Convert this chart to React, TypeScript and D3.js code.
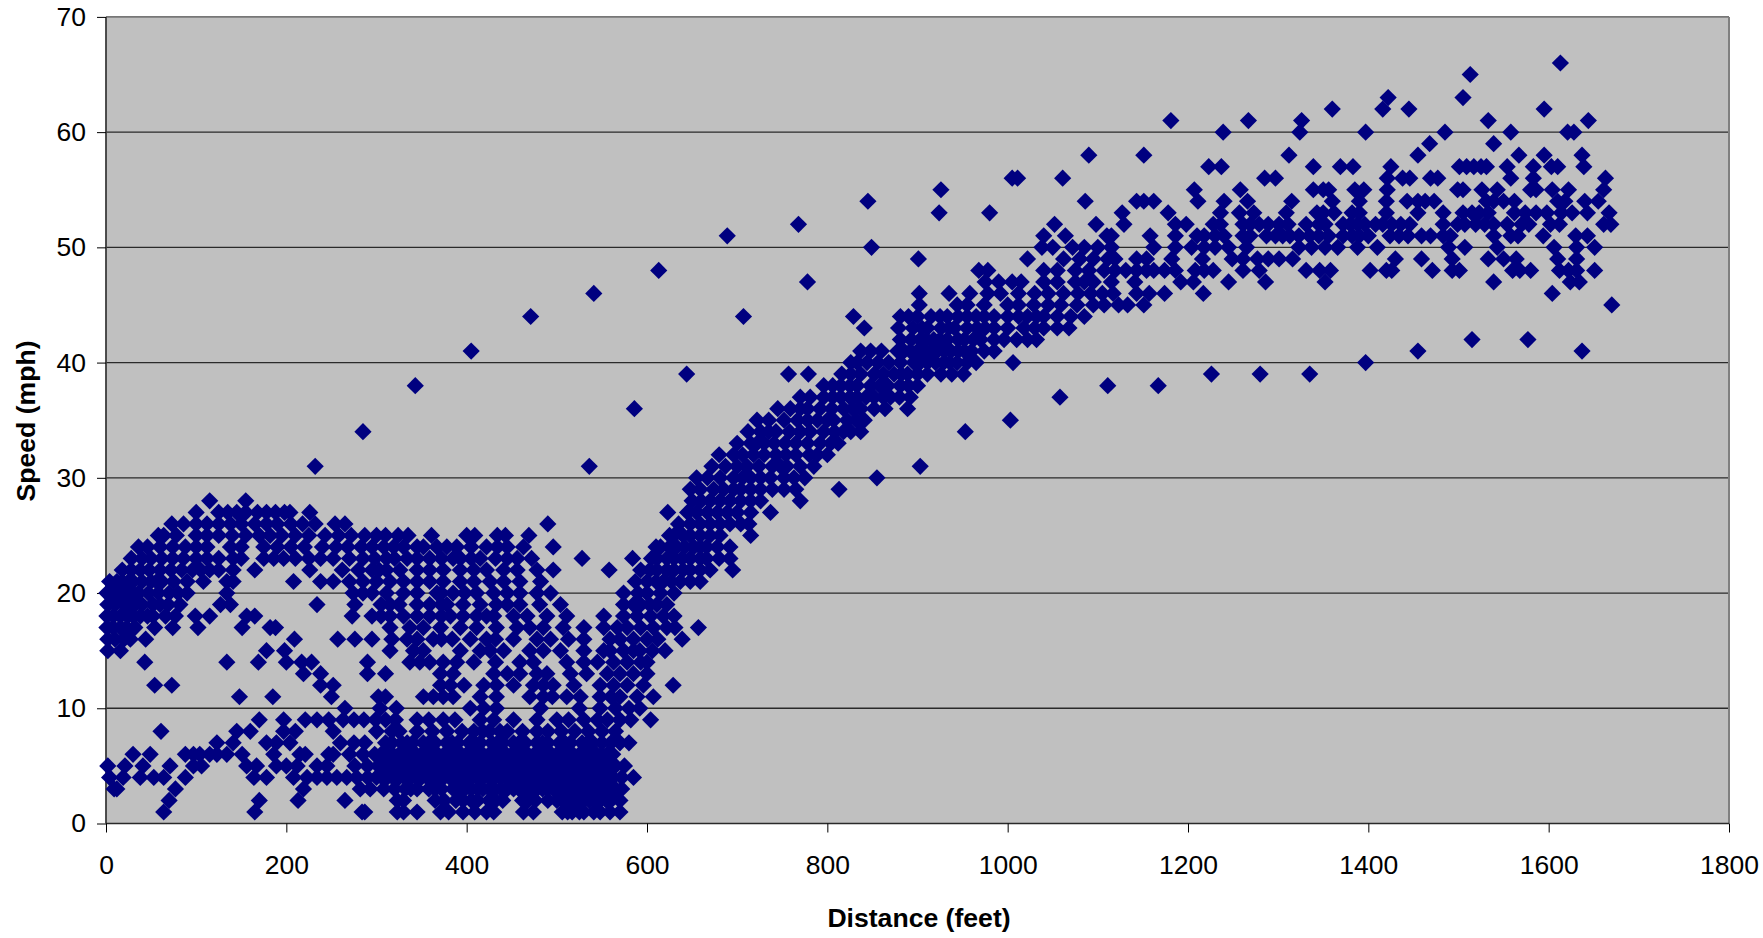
import * as d3 from "d3";
import { useRef, useEffect } from "react";

const width = 1763;
const height = 938;
const marginTop = 16.9;
const marginRight = 34;
const marginBottom = 114.5;
const marginLeft = 106;

const xTicks = [0, 200, 400, 600, 800, 1000, 1200, 1400, 1600, 1800];
const yTicks = [0, 10, 20, 30, 40, 50, 60, 70];

// Speeds are whole mph, so the points are kept as distances (feet) per speed
const speeds = [1, 2, 3, 4, 5, 6, 7, 8, 9, 10, 11, 12, 13, 14, 15, 16, 17, 18, 19, 20, 21, 22, 23, 24, 25, 26, 27, 28, 29, 30, 31, 32, 33, 34, 35, 36, 37, 38, 39, 40, 41, 42, 43, 44, 45, 46, 47, 48, 49, 50, 51, 52, 53, 54, 55, 56, 57, 58, 59, 60, 61, 62, 63, 65, 66];

const distances = [
  [64, 165, 284, 287, 323, 330, 345, 371, 380, 396, 409, 422, 430, 463, 474, 506, 512, 517, 525, 530, 541, 548, 559, 570],
  [70, 170, 213, 265, 323, 330, 365, 375, 388, 396, 405, 412, 425, 432, 440, 462, 468, 476, 490, 500, 507, 512, 520, 524, 530, 536, 543, 548, 555, 560, 570],
  [9, 12, 77, 219, 282, 293, 308, 320, 332, 338, 345, 358, 365, 372, 385, 391, 398, 405, 412, 418, 425, 431, 438, 445, 452, 458, 465, 472, 478, 484, 490, 496, 502, 508, 515, 521, 527, 533, 540, 546, 552, 558, 565, 572],
  [4, 19, 38, 53, 64, 88, 164, 178, 208, 223, 234, 245, 256, 267, 278, 290, 300, 306, 312, 318, 325, 331, 337, 344, 350, 356, 362, 368, 375, 381, 387, 393, 400, 406, 412, 418, 425, 431, 437, 443, 450, 456, 462, 468, 475, 481, 487, 493, 500, 506, 512, 518, 525, 531, 537, 543, 550, 556, 562, 572, 585],
  [2, 21, 41, 71, 97, 106, 156, 167, 189, 200, 212, 234, 245, 276, 290, 302, 308, 315, 322, 328, 334, 340, 346, 352, 358, 365, 371, 378, 384, 390, 396, 402, 408, 415, 421, 428, 434, 440, 446, 452, 458, 465, 471, 478, 484, 490, 496, 502, 508, 515, 521, 528, 534, 540, 546, 552, 558, 565, 575],
  [30, 49, 88, 97, 104, 115, 123, 134, 151, 186, 215, 221, 247, 252, 270, 285, 298, 305, 312, 318, 325, 331, 338, 344, 350, 356, 362, 368, 375, 381, 388, 394, 400, 406, 412, 418, 425, 431, 438, 444, 450, 456, 462, 468, 475, 481, 488, 494, 500, 506, 512, 518, 525, 531, 538, 544, 550, 556, 562],
  [123, 141, 178, 189, 204, 260, 275, 287, 310, 317, 328, 334, 340, 352, 358, 365, 378, 384, 390, 403, 409, 415, 428, 434, 440, 452, 458, 465, 478, 484, 490, 503, 509, 515, 528, 534, 540, 550, 560, 570, 580],
  [61, 145, 160, 197, 210, 252, 300, 317, 325, 345, 362, 378, 395, 408, 418, 425, 437, 445, 462, 478, 490, 505, 520, 535, 550, 565],
  [170, 197, 221, 234, 247, 263, 275, 286, 299, 310, 321, 345, 358, 374, 387, 415, 430, 452, 478, 500, 513, 530, 545, 556, 570, 582, 604],
  [265, 304, 322, 404, 419, 433, 482, 525, 548, 565, 580, 592],
  [148, 185, 250, 302, 310, 352, 363, 374, 385, 415, 433, 470, 485, 495, 511, 526, 548, 560, 570, 589, 607],
  [54, 73, 238, 252, 371, 382, 397, 419, 433, 452, 474, 485, 496, 519, 548, 563, 578, 596, 629],
  [219, 238, 290, 310, 371, 385, 430, 445, 459, 478, 489, 515, 533, 556, 570, 585, 600],
  [43, 134, 169, 200, 217, 228, 290, 337, 348, 359, 374, 389, 408, 432, 459, 474, 511, 530, 545, 563, 578, 593, 600],
  [2, 16, 178, 198, 315, 341, 352, 393, 415, 426, 441, 470, 485, 504, 530, 552, 559, 574, 585, 592, 606, 620],
  [2, 10, 20, 27, 44, 209, 257, 276, 295, 317, 334, 345, 363, 372, 384, 404, 422, 432, 452, 478, 493, 513, 530, 559, 570, 585, 600, 612, 639],
  [1, 8, 16, 23, 32, 54, 74, 102, 151, 182, 188, 315, 337, 352, 371, 393, 411, 433, 456, 470, 485, 507, 530, 552, 567, 578, 593, 607, 622, 631, 657],
  [1, 8, 16, 24, 30, 38, 46, 52, 66, 77, 99, 115, 156, 165, 273, 295, 305, 315, 330, 345, 359, 372, 382, 396, 411, 422, 430, 452, 467, 489, 511, 552, 574, 589, 604, 618, 630],
  [2, 10, 20, 26, 32, 40, 52, 60, 69, 82, 127, 138, 234, 276, 305, 315, 325, 345, 359, 372, 378, 396, 415, 433, 445, 459, 481, 504, 574, 585, 593, 603, 611, 622],
  [1, 7, 15, 20, 25, 30, 36, 47, 58, 70, 80, 90, 134, 274, 285, 295, 311, 330, 345, 367, 372, 385, 398, 411, 430, 445, 459, 478, 493, 574, 590, 600, 615, 630],
  [4, 12, 18, 25, 30, 40, 50, 56, 62, 75, 90, 108, 134, 141, 208, 238, 252, 270, 285, 300, 315, 330, 345, 359, 374, 393, 408, 426, 441, 459, 482, 587, 600, 610, 618, 627, 637, 648, 659],
  [18, 28, 38, 48, 60, 72, 84, 96, 105, 115, 125, 141, 165, 226, 262, 280, 295, 303, 311, 326, 345, 359, 374, 393, 408, 422, 441, 456, 478, 496, 558, 593, 603, 611, 622, 630, 640, 648, 659, 670, 695],
  [28, 40, 50, 62, 74, 86, 100, 112, 125, 141, 150, 175, 186, 197, 210, 225, 238, 252, 270, 285, 298, 311, 320, 334, 345, 359, 372, 385, 393, 405, 415, 432, 445, 456, 472, 528, 584, 605, 611, 622, 630, 639, 648, 659, 666, 680, 692],
  [36, 46, 60, 74, 88, 100, 112, 138, 150, 175, 190, 205, 220, 240, 255, 268, 283, 295, 308, 319, 330, 345, 352, 367, 378, 389, 405, 422, 434, 445, 463, 496, 610, 615, 625, 633, 642, 652, 659, 666, 678, 692],
  [58, 64, 78, 100, 112, 125, 140, 155, 170, 182, 195, 210, 225, 243, 258, 272, 287, 300, 310, 324, 335, 361, 400, 409, 434, 443, 469, 625, 630, 640, 648, 659, 670, 681, 715],
  [73, 86, 100, 112, 125, 138, 150, 165, 178, 190, 205, 218, 232, 254, 265, 490, 635, 648, 659, 670, 681, 692, 704, 713],
  [100, 125, 135, 145, 155, 168, 178, 188, 198, 204, 226, 623, 645, 655, 667, 678, 689, 700, 715, 737],
  [115, 155, 650, 660, 670, 681, 692, 704, 715, 726, 770],
  [648, 659, 674, 685, 696, 704, 715, 726, 739, 752, 765, 813],
  [655, 667, 681, 696, 706, 715, 726, 737, 752, 763, 775, 855],
  [232, 536, 672, 687, 700, 711, 724, 739, 748, 755, 770, 785, 903],
  [680, 696, 706, 718, 730, 743, 754, 765, 780, 789, 800],
  [700, 715, 722, 730, 741, 753, 765, 778, 792, 804, 812],
  [285, 712, 726, 735, 743, 758, 770, 781, 796, 808, 818, 826, 837, 953],
  [722, 735, 752, 767, 778, 789, 800, 807, 822, 832, 841, 1003],
  [586, 745, 759, 770, 778, 792, 805, 818, 828, 837, 852, 864, 889],
  [770, 781, 796, 806, 815, 825, 833, 843, 852, 862, 870, 880, 892, 1058],
  [343, 796, 806, 815, 825, 833, 848, 858, 867, 881, 890, 900, 1111, 1167],
  [644, 757, 779, 816, 826, 837, 852, 862, 874, 882, 889, 900, 911, 926, 938, 951, 1226, 1280, 1335],
  [826, 833, 844, 856, 868, 881, 896, 903, 911, 920, 929, 936, 944, 955, 965, 1006, 1397],
  [405, 837, 848, 860, 878, 885, 892, 900, 907, 915, 922, 930, 937, 945, 952, 960, 974, 985, 1455, 1637],
  [881, 893, 903, 910, 918, 925, 933, 945, 952, 962, 970, 985, 996, 1010, 1022, 1032, 1515, 1577],
  [841, 879, 895, 905, 911, 926, 935, 941, 955, 966, 975, 985, 1000, 1018, 1030, 1040, 1055, 1068],
  [471, 707, 829, 881, 890, 900, 915, 925, 933, 945, 955, 965, 974, 985, 1000, 1012, 1022, 1032, 1040, 1055, 1070, 1085],
  [902, 944, 955, 974, 1000, 1012, 1029, 1045, 1059, 1077, 1095, 1107, 1123, 1133, 1151, 1670],
  [541, 902, 935, 958, 978, 992, 1012, 1030, 1045, 1062, 1078, 1092, 1105, 1117, 1143, 1157, 1174, 1217, 1604],
  [778, 975, 990, 1005, 1015, 1040, 1055, 1075, 1085, 1095, 1115, 1141, 1192, 1206, 1245, 1286, 1352, 1539, 1624, 1634],
  [613, 968, 978, 1040, 1055, 1075, 1090, 1107, 1119, 1131, 1143, 1154, 1162, 1174, 1186, 1208, 1218, 1228, 1261, 1279, 1331, 1346, 1358, 1402, 1420, 1426, 1471, 1493, 1501, 1560, 1568, 1580, 1612, 1622, 1631, 1651],
  [901, 1022, 1062, 1080, 1095, 1111, 1119, 1143, 1154, 1182, 1216, 1249, 1261, 1277, 1289, 1301, 1316, 1430, 1459, 1493, 1533, 1550, 1564, 1610, 1631],
  [849, 1038, 1050, 1072, 1085, 1100, 1115, 1162, 1186, 1204, 1218, 1230, 1245, 1265, 1323, 1337, 1352, 1366, 1388, 1410, 1489, 1507, 1543, 1606, 1631, 1651],
  [689, 1040, 1064, 1110, 1115, 1158, 1186, 1210, 1218, 1230, 1240, 1261, 1269, 1287, 1297, 1305, 1313, 1323, 1335, 1345, 1356, 1372, 1382, 1390, 1400, 1424, 1434, 1444, 1459, 1469, 1483, 1491, 1539, 1558, 1566, 1594, 1630, 1643],
  [768, 1052, 1098, 1129, 1186, 1198, 1228, 1236, 1261, 1269, 1279, 1289, 1301, 1311, 1331, 1345, 1352, 1372, 1380, 1388, 1396, 1408, 1416, 1426, 1436, 1446, 1483, 1499, 1507, 1519, 1529, 1539, 1554, 1570, 1578, 1602, 1612, 1661, 1669],
  [924, 980, 1127, 1178, 1236, 1257, 1273, 1309, 1343, 1350, 1362, 1382, 1390, 1420, 1455, 1483, 1505, 1515, 1523, 1533, 1562, 1574, 1586, 1598, 1614, 1626, 1643, 1667],
  [845, 1086, 1143, 1151, 1162, 1211, 1240, 1266, 1315, 1360, 1390, 1420, 1443, 1455, 1463, 1473, 1531, 1539, 1550, 1562, 1610, 1618, 1640, 1655],
  [926, 1207, 1258, 1339, 1350, 1356, 1385, 1395, 1421, 1499, 1505, 1526, 1543, 1580, 1586, 1604, 1622, 1661],
  [1005, 1011, 1061, 1285, 1297, 1421, 1438, 1446, 1469, 1477, 1558, 1583, 1663],
  [1223, 1237, 1339, 1369, 1383, 1425, 1501, 1509, 1517, 1525, 1531, 1554, 1583, 1603, 1610, 1639],
  [1090, 1151, 1312, 1455, 1567, 1595, 1637],
  [1468, 1539],
  [1239, 1324, 1397, 1485, 1558, 1621, 1628],
  [1181, 1267, 1326, 1533, 1644],
  [1360, 1416, 1445, 1595],
  [1422, 1505],
  [1513],
  [1613],
];

const x = d3.scaleLinear([0, 1800], [marginLeft, width - marginRight]);
const y = d3.scaleLinear([0, 70], [height - marginBottom, marginTop]);

const points = speeds.flatMap((speed, i) =>
  distances[i].map((distance) => ({ speed, distance }))
);

const diamond = "M0,-8.6L8.6,0L0,8.6L-8.6,0Z";
const font = "'Liberation Sans', Arial, sans-serif";

export default function App() {
  const gx = useRef<SVGGElement>(null);
  const gy = useRef<SVGGElement>(null);

  useEffect(() => {
    const bottom = d3
      .axisBottom(x)
      .tickValues(xTicks)
      .tickSize(9)
      .tickPadding(23)
      .tickFormat(d3.format("d"));
    d3.select(gx.current).call(bottom);
    d3.select(gx.current).select(".domain").remove();
  }, []);

  useEffect(() => {
    const left = d3
      .axisLeft(y)
      .tickValues(yTicks)
      .tickSize(9)
      .tickPadding(11)
      .tickFormat(d3.format("d"));
    d3.select(gy.current).call(left);
    d3.select(gy.current).select(".domain").remove();
  }, []);

  return (
    <svg
      width={width}
      height={height}
      style={{ position: "absolute", left: 0, top: 0, background: "#fff" }}
      fontFamily={font}
    >
      <rect
        x={marginLeft}
        y={marginTop}
        width={width - marginLeft - marginRight}
        height={height - marginTop - marginBottom}
        fill="#c0c0c0"
      />
      {/* Grid lines */}
      <g stroke="#2a2a2a" strokeWidth="1.3">
        {yTicks.slice(1, -1).map((t) => (
          <line key={t} x1={marginLeft} x2={width - marginRight} y1={y(t)} y2={y(t)} />
        ))}
      </g>
      {/* Plot border */}
      <line x1={marginLeft} x2={width - marginRight} y1={marginTop} y2={marginTop} stroke="#777" strokeWidth="1.6" />
      <line x1={width - marginRight} x2={width - marginRight} y1={marginTop} y2={y(0)} stroke="#808080" strokeWidth="2" />
      <line x1={marginLeft} x2={marginLeft} y1={marginTop} y2={y(0)} stroke="#3c3c3c" strokeWidth="1.8" />
      <line x1={marginLeft} x2={width - marginRight} y1={y(0)} y2={y(0)} stroke="#2a2a2a" strokeWidth="1.6" />
      {/* X axis */}
      <g ref={gx} transform={`translate(0,${height - marginBottom})`} style={{ fontFamily: font, fontSize: 26.5 }} />
      {/* Y axis */}
      <g ref={gy} transform={`translate(${marginLeft},0)`} style={{ fontFamily: font, fontSize: 26.5 }} />
      {/* Data points */}
      <g fill="#000080">
        {points.map((d, i) => (
          <path key={i} d={diamond} transform={`translate(${x(d.distance)},${y(d.speed)})`} />
        ))}
      </g>
      <text x={919} y={927} textAnchor="middle" fontSize="26.6" fontWeight="bold">
        Distance (feet)
      </text>
      <text
        transform="translate(35,421) rotate(-90)"
        textAnchor="middle"
        fontSize="26.6"
        fontWeight="bold"
      >
        Speed (mph)
      </text>
    </svg>
  );
}
